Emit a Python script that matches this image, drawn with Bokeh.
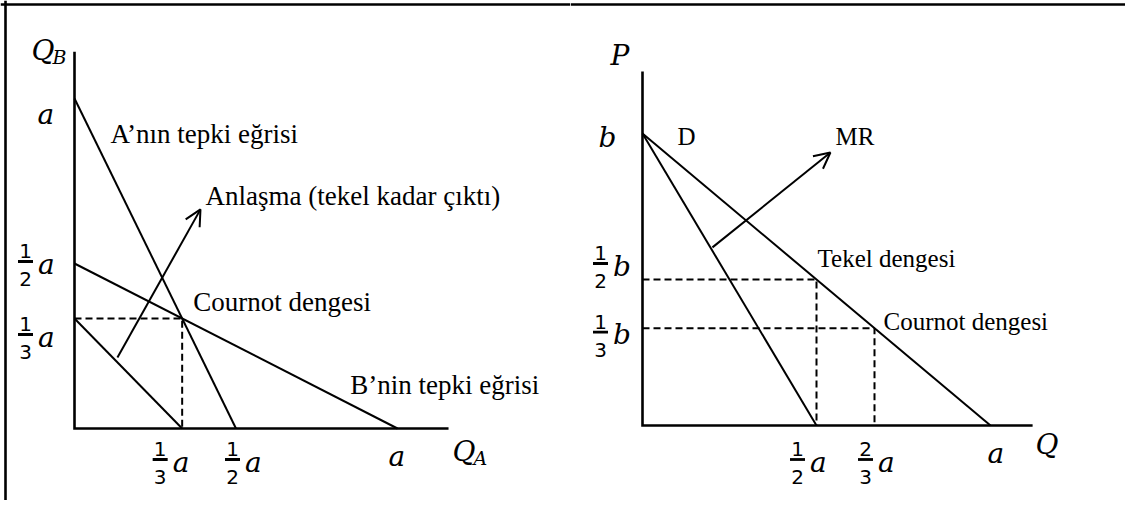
from bokeh.plotting import figure
from bokeh.layouts import row
from bokeh.models import ColumnDataSource, Range1d, Arrow, OpenHead, Span
from bokeh.core.properties import value
from bokeh.embed import file_html
from bokeh.resources import INLINE

# ---------------- Left panel data (units of a) ----------------
A_REACT_QA = [0.0, 0.5]        # A'nın tepki eğrisi
A_REACT_QB = [1.0, 0.0]
B_REACT_QA = [0.0, 1.0]        # B'nin tepki eğrisi
B_REACT_QB = [0.5, 0.0]
COLL_QA = [0.0, 1 / 3]         # collusion line
COLL_QB = [1 / 3, 0.0]
COURNOT_L = [1 / 3, 1 / 3]
ARROW_L_FROM = [0.133, 0.215]
ARROW_L_TO = [0.390, 0.664]
L_AXIS_X_END = 1.158
L_AXIS_Y_END = 1.142
L_XTICKS = [1 / 3, 1 / 2]
L_XTICK_NUM = ["1", "1"]
L_XTICK_DEN = ["3", "2"]
L_YTICKS = [1 / 2, 1 / 3]
L_YTICK_NUM = ["1", "1"]
L_YTICK_DEN = ["2", "3"]

# ---------------- Right panel data (Q in units of a, P in units of b) ----------------
D_Q = [0.0, 1.0]
D_P = [1.0, 0.0]
MR_Q = [0.0, 0.5]
MR_P = [1.0, 0.0]
MONOPOLY = [1 / 2, 1 / 2]
COURNOT_R = [2 / 3, 1 / 3]
ARROW_R_FROM = [0.201, 0.610]
ARROW_R_TO = [0.540, 0.935]
R_AXIS_X_END = 1.121
R_AXIS_Y_END = 1.212
R_XTICKS = [1 / 2, 2 / 3]
R_XTICK_NUM = ["1", "2"]
R_XTICK_DEN = ["2", "3"]
R_YTICKS = [1 / 2, 1 / 3]
R_YTICK_NUM = ["1", "1"]
R_YTICK_DEN = ["2", "3"]

# ---------------- styling / placement (pixels) ----------------
SERIF = "Liberation Serif"
MATH = "DejaVu Serif"
DIGITS = "DejaVu Sans"
LW = 2
AXIS_LW = 2.6
DASH = "7 4"
BASELINE_FIX = 0.26   # fraction of font size to lift text

L_XLAB_DX = [-22, -3.5]
L_XLAB_DY = 31
L_YLAB_DX = -49
L_YLAB_DY = [-2, 16]
R_XLAB_DX = [-19, -9]
R_XLAB_DY = 34
R_YLAB_DX = -42
R_YLAB_DY = [-16, 4]

SCALE = {}


def make_panel(width, height, xs, xe, ys, ye):
    p = figure(width=width, height=height, output_backend="svg", toolbar_location=None,
               x_range=Range1d(xs, xe), y_range=Range1d(ys, ye), min_border=0)
    p.axis.visible = False
    p.grid.visible = False
    p.outline_line_color = None
    p.background_fill_color = "white"
    p.border_fill_color = "white"
    SCALE[id(p)] = (width / (xe - xs), height / (ye - ys))
    return p


def txt(p, x, y, s, size, font, style="normal", dx=0.0, dy=0.0, align="left"):
    sx, sy = SCALE[id(p)]
    dy = dy - BASELINE_FIX * size
    p.text(x=[x + dx / sx], y=[y - dy / sy], text=[s], text_font=value(font),
           text_font_size=f"{size}px", text_font_style=style, text_align=align,
           text_baseline="alphabetic", text_color="black")


def frac(p, x, y, num, den, letter, dx, dy, letter_size=28):
    sx, sy = SCALE[id(p)]
    bx = x + dx / sx
    by = y - dy / sy
    txt(p, bx, by, num, 20, DIGITS, dy=-5, align="center")
    txt(p, bx, by, den, 20, DIGITS, dy=23, align="center")
    p.quad(left=[bx - 7.5 / sx], right=[bx + 7.5 / sx],
           bottom=[by - 1.4 / sy], top=[by + 1.4 / sy],
           fill_color="black", line_color=None)
    txt(p, bx, by, letter, letter_size, MATH, style="italic", dx=12.5, dy=10)


def axes(p, xend, yend):
    p.line(x=[0, 0, xend], y=[yend, 0, 0], line_width=AXIS_LW, line_color="black",
           line_join="miter")


def arrow(p, a, b):
    src = ColumnDataSource(dict(x0=[a[0]], y0=[a[1]], x1=[b[0]], y1=[b[1]]))
    p.add_layout(Arrow(end=OpenHead(size=16, line_width=LW, line_color="black"),
                       x_start="x0", y_start="y0", x_end="x1", y_end="y1",
                       line_width=LW, line_color="black", source=src))


# ================= LEFT PANEL =================
LXS, LXE, LYS, LYE = -74 / 323, 496 / 323, -72 / 330, 428 / 330
L = make_panel(570, 500, LXS, LXE, LYS, LYE)
axes(L, L_AXIS_X_END, L_AXIS_Y_END)
L.line(A_REACT_QA, A_REACT_QB, line_width=LW, line_color="black")
L.line(B_REACT_QA, B_REACT_QB, line_width=LW, line_color="black")
L.line(COLL_QA, COLL_QB, line_width=LW, line_color="black")
L.line([0, COURNOT_L[0], COURNOT_L[0]], [COURNOT_L[1], COURNOT_L[1], 0],
       line_width=LW, line_color="black", line_dash=DASH)
arrow(L, ARROW_L_FROM, ARROW_L_TO)

txt(L, 0.1115, 0.870, "A\u2019nın tepki eğrisi", 27, SERIF)
txt(L, 0.4056, 0.682, "Anlaşma (tekel kadar çıktı)", 27, SERIF)
txt(L, 0.368, 0.361, "Cournot dengesi", 27, SERIF)
txt(L, 0.854, 0.112, "B\u2019nin tepki eğrisi", 27, SERIF)

# axis names
txt(L, 0, L_AXIS_Y_END, "Q", 28, MATH, "italic", dx=-43, dy=6)
txt(L, 0, L_AXIS_Y_END, "B", 19, MATH, "italic", dx=-22, dy=10)
txt(L, L_AXIS_X_END, 0, "Q", 28, MATH, "italic", dx=4, dy=30)
txt(L, L_AXIS_X_END, 0, "A", 19, MATH, "italic", dx=25, dy=34)
# a labels
txt(L, 0, A_REACT_QB[0], "a", 28, MATH, "italic", dx=-37, dy=23)
txt(L, B_REACT_QA[1], 0, "a", 28, MATH, "italic", dx=-9, dy=35)
for v, n, d, dx in zip(L_XTICKS, L_XTICK_NUM, L_XTICK_DEN, L_XLAB_DX):
    frac(L, v, 0, n, d, "a", dx, L_XLAB_DY)
for v, n, d, dy in zip(L_YTICKS, L_YTICK_NUM, L_YTICK_DEN, L_YLAB_DY):
    frac(L, 0, v, n, d, "a", L_YLAB_DX, dy)

# outer border of the picture (top and left)
L.add_layout(Span(location=LYE - 4 / 330, dimension="width", line_width=2.6, line_color="black"))
L.add_layout(Span(location=LXS + 5 / 323, dimension="height", line_width=2.6, line_color="black"))

# ================= RIGHT PANEL =================
RXS, RXE, RYS, RYE = -72 / 348, 483 / 348, -75 / 292, 425 / 292
R = make_panel(555, 500, RXS, RXE, RYS, RYE)
axes(R, R_AXIS_X_END, R_AXIS_Y_END)
R.line(D_Q, D_P, line_width=LW, line_color="black")
R.line(MR_Q, MR_P, line_width=LW, line_color="black")
R.line([0, MONOPOLY[0], MONOPOLY[0]], [MONOPOLY[1], MONOPOLY[1], 0],
       line_width=LW, line_color="black", line_dash=DASH)
R.line([0, COURNOT_R[0], COURNOT_R[0]], [COURNOT_R[1], COURNOT_R[1], 0],
       line_width=LW, line_color="black", line_dash=DASH)
arrow(R, ARROW_R_FROM, ARROW_R_TO)

txt(R, 0.1006, 0.966, "D", 25, SERIF)
txt(R, 0.5546, 0.966, "MR", 25, SERIF)
txt(R, 0.503, 0.548, "Tekel dengesi", 25, SERIF)
txt(R, 0.6925, 0.3356, "Cournot dengesi", 25, SERIF)

txt(R, 0, R_AXIS_Y_END, "P", 28, MATH, "italic", dx=-32, dy=-9)
txt(R, R_AXIS_X_END, 0, "Q", 28, MATH, "italic", dx=3, dy=26)
txt(R, 0, D_P[0], "b", 28, MATH, "italic", dx=-44, dy=11)
txt(R, D_Q[1], 0, "a", 28, MATH, "italic", dx=-3, dy=35)
for v, n, d, dx in zip(R_XTICKS, R_XTICK_NUM, R_XTICK_DEN, R_XLAB_DX):
    frac(R, v, 0, n, d, "a", dx, R_XLAB_DY)
for v, n, d, dy in zip(R_YTICKS, R_YTICK_NUM, R_YTICK_DEN, R_YLAB_DY):
    frac(R, 0, v, n, d, "b", R_YLAB_DX, dy)

R.add_layout(Span(location=RYE - 4 / 292, dimension="width", line_width=2.6, line_color="black"))

layout = row(L, R, spacing=0)
open("out.html", "w").write(file_html(layout, INLINE))
